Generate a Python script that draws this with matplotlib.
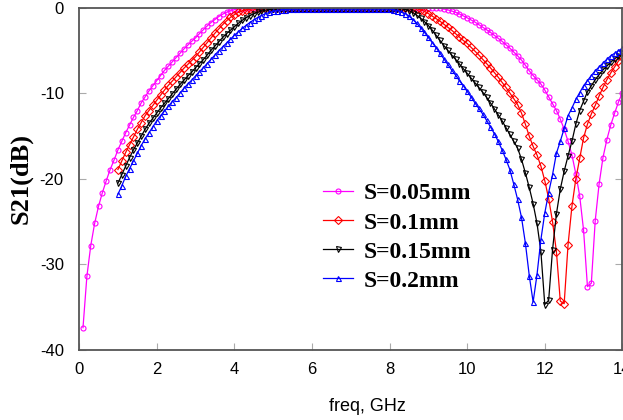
import numpy as np
import matplotlib
matplotlib.use("Agg")
import matplotlib.pyplot as plt

plt.rcParams["axes.unicode_minus"] = False

# S21 (dB), sampled every 0.1 GHz
# S=0.05mm : 0.1 .. 14.0 GHz
s21_005 = [-37.4, -31.4, -27.8, -25.2, -23.2, -21.6, -20.2, -18.9, -17.8,
           -16.6, -15.6, -14.6, -13.7, -12.8, -12.0, -11.1, -10.4, -9.7, -9.1,
           -8.5, -7.9, -7.3, -6.8, -6.3, -5.8, -5.3, -4.8, -4.35, -3.9,
           -3.5, -3.0, -2.55, -2.1, -1.7, -1.35, -1.0, -0.72, -0.5, -0.32,
           -0.2, -0.12, -0.07, -0.04, -0.02] + [-0.01] * 48 + \
          [-0.05, -0.12, -0.22, -0.35, -0.5, -0.7, -0.92,
           -1.15, -1.4, -1.65, -1.95, -2.25, -2.55, -2.85, -3.2, -3.55, -3.9,
           -4.3, -4.7, -5.15, -5.6, -6.1, -6.7, -7.35, -7.9, -8.4, -8.9,
           -9.6, -10.4, -11.2, -12.0, -13.0, -14.2, -15.6, -17.2, -19.4, -22.0,
           -26.0, -32.6, -32.2, -24.9, -20.6, -17.5, -15.4, -13.7, -12.3, -11.0,
           -9.9]
# the other three : 1.0 .. 14.0 GHz
s21_01 = [-18.9, -17.9, -16.9, -16.0, -15.1, -14.2, -13.4, -12.6, -12.0, -11.4,
          -10.8, -10.2, -9.6, -9.05, -8.55, -8.05, -7.55, -7.05, -6.6, -6.15,
          -5.7, -5.15, -4.6, -4.05, -3.5, -2.95, -2.45, -1.95, -1.5, -1.1,
          -0.78, -0.52, -0.34, -0.21, -0.13, -0.08, -0.05, -0.03] + [-0.02] * 39 + \
         [-0.08, -0.2, -0.4,
          -0.65, -0.95, -1.25, -1.55, -1.9, -2.25, -2.6, -3.0, -3.4, -3.8,
          -4.15, -4.6, -5.05, -5.5, -6.0, -6.5, -7.0, -7.55, -8.1, -8.7,
          -9.3, -9.95, -10.6, -11.3, -12.3, -13.6, -15.0, -16.2, -17.2, -18.5,
          -20.2, -22.3, -25.0, -28.5, -34.3, -34.6, -27.7, -23.2, -20.0, -17.6,
          -15.2, -13.6, -12.4, -11.4, -10.3, -9.3, -8.4, -7.6, -6.9, -6.2,
          -5.7]
s21_015 = [-20.5, -19.5, -18.5, -17.5, -16.6, -15.8, -15.0, -14.2, -13.5, -12.9,
           -12.3, -11.7, -11.15, -10.6, -10.05, -9.5, -8.95, -8.45, -7.95, -7.5,
           -7.0, -6.5, -6.05, -5.5, -4.95, -4.45, -3.95, -3.45, -3.0, -2.6,
           -2.2, -1.8, -1.45, -1.15, -0.9, -0.68, -0.5, -0.36, -0.26, -0.18,
           -0.13, -0.1, -0.08] + [-0.08] * 31 + \
          [-0.15, -0.3, -0.55, -0.85, -1.2, -1.6,
           -2.05, -2.6, -3.2, -3.8, -4.4, -4.95, -5.5, -6.0, -6.55, -7.1,
           -7.65, -8.2, -8.75, -9.3, -9.85, -10.45, -11.1, -11.8, -12.5, -13.2,
           -14.0, -14.8, -15.6, -16.4, -17.7, -19.3, -21.0, -22.9, -25.2, -28.5,
           -34.7, -34.2, -28.3, -24.1, -21.2, -19.1, -17.3, -15.6, -13.6, -12.0,
           -10.9, -9.8, -9.1, -8.4, -7.8, -7.25, -6.8, -6.35, -5.95, -5.6,
           -5.3]
s21_02 = [-21.8, -20.8, -19.7, -18.8, -17.9, -17.0, -16.1, -15.3, -14.6, -13.9,
          -13.2, -12.6, -12.05, -11.5, -10.95, -10.5, -9.95, -9.4, -8.9, -8.45,
          -7.95, -7.45, -7.0, -6.5, -6.0, -5.5, -5.0, -4.55, -4.1, -3.65,
          -3.2, -2.8, -2.4, -2.05, -1.7, -1.4, -1.12, -0.88, -0.68, -0.52,
          -0.4, -0.3, -0.23, -0.18, -0.15, -0.13] + [-0.12] * 25 + \
         [-0.2, -0.3, -0.45, -0.65, -0.95, -1.35, -1.8, -2.3, -2.85,
          -3.45, -4.05, -4.65, -5.3, -5.95, -6.6, -7.25, -7.85, -8.5, -9.1,
          -9.75, -10.4, -11.1, -11.75, -12.4, -13.15, -13.9, -14.7, -15.6, -16.6,
          -17.7, -18.9, -20.6, -22.4, -24.5, -27.5, -31.3, -34.4, -31.2, -27.1,
          -24.0, -21.6, -19.5, -17.0, -15.6, -14.1, -12.6, -11.7, -10.7, -9.9,
          -9.1, -8.5, -7.9, -7.35, -6.9, -6.45, -6.0, -5.6, -5.3, -5.0,
          -4.7]

labels = ["S=0.05mm", "S=0.1mm", "S=0.15mm", "S=0.2mm"]
start_ghz = [0.1, 1.0, 1.0, 1.0]
colors = ["#ff00ff", "#ff0000", "#000000", "#0000ff"]
markers = ["o", "D", "v", "^"]

fig = plt.figure(figsize=(6.23, 4.2), dpi=100)
ax = fig.add_axes([0.127, 0.167, 0.872, 0.814])

for vals, f0, lab, c, m in zip([s21_005, s21_01, s21_015, s21_02], start_ghz, labels, colors, markers):
    freq = np.round(f0 + 0.1 * np.arange(len(vals)), 2)
    ax.plot(freq, vals, color=c, lw=0.9, marker=m, ms=3.6, mfc="none", mec=c, mew=0.8, label=lab)

ax.set_xlim(0, 14)
ax.set_ylim(-40, 0)
ax.set_xticks([0, 2, 4, 6, 8, 10, 12, 14])
ax.set_yticks([-40, -30, -20, -10, 0])
ax.tick_params(direction="in", length=5, color="#aaaaaa", labelsize=12, right=True)
ax.tick_params(axis="x", pad=9)
ax.tick_params(axis="y", pad=11)
for lb in ax.get_xticklabels() + ax.get_yticklabels():
    lb.set_family("Liberation Sans")
for sp in ax.spines.values():
    sp.set_color("#555555")
    sp.set_linewidth(1.3)

ax.set_xlabel("freq, GHz", family="Liberation Sans", fontsize=13)
ax.xaxis.set_label_coords(0.53, -0.14)
ax.set_ylabel("S21(dB)", family="Liberation Serif", fontweight="bold", fontsize=19)
ax.yaxis.set_label_coords(-0.085, 0.5)

leg = ax.legend(loc="center left", bbox_to_anchor=(0.518, 0.435), bbox_transform=fig.transFigure,
                frameon=False, borderpad=0, borderaxespad=0, handlelength=1.3,
                handletextpad=0.45, labelspacing=0.32,
                prop={"family": "Liberation Serif", "weight": "bold", "size": 17})

fig.savefig("out.png", dpi=100)
